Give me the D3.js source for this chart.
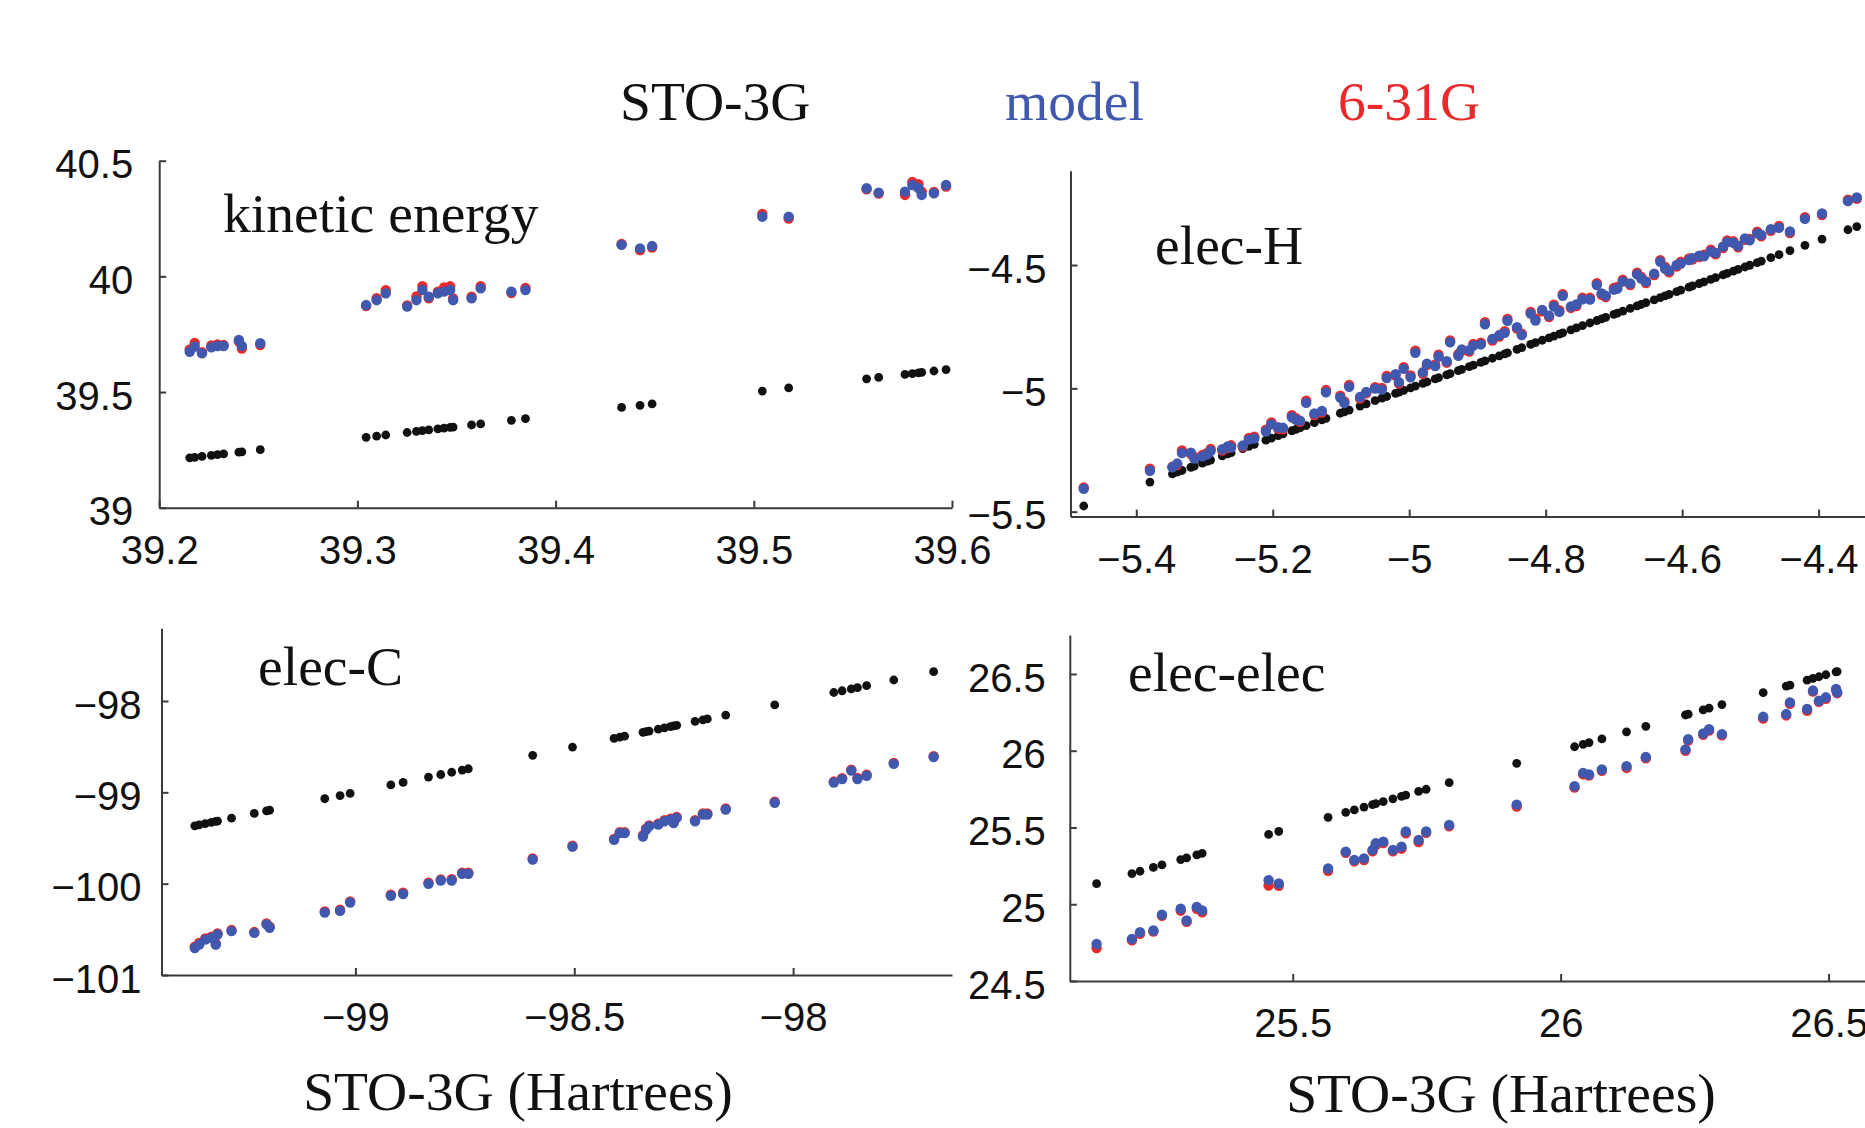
<!DOCTYPE html>
<html><head><meta charset="utf-8">
<script src="https://cdn.jsdelivr.net/npm/d3@7"></script>
<style>body{margin:0;background:#fff;overflow:hidden}</style>
</head><body>
<svg id="chart" width="1865" height="1128"></svg>
<script>
// ---------------- DATA ----------------
const legendLabels = ["STO-3G", "model", "6-31G"];
const panelTitles = ["kinetic energy", "elec-H", "elec-C", "elec-elec"];
const xAxisTitle = "STO-3G (Hartrees)";

// kinetic energy (x = STO-3G value; black points are STO-3G vs itself)
const keSTO = [39.2154,39.2179,39.2216,39.2263,39.2294,39.2325,39.2402,39.2417,39.2510,39.3044,39.3097,39.3143,39.3251,39.3298,39.3328,39.3360,39.3406,39.3437,39.3468,39.3483,39.3576,39.3622,39.3777,39.3848,39.4333,39.4426,39.4487,39.5043,39.5176,39.5569,39.5630,39.5763,39.5800,39.5831,39.5847,39.5909,39.5970];
const keModel = [39.674,39.696,39.667,39.693,39.699,39.699,39.725,39.699,39.711,39.876,39.897,39.927,39.869,39.897,39.941,39.912,39.927,39.934,39.941,39.897,39.905,39.948,39.934,39.941,40.136,40.121,40.131,40.258,40.258,40.381,40.362,40.366,40.395,40.381,40.352,40.359,40.395];
const ke631 = [39.684,39.712,39.672,39.701,39.706,39.703,39.718,39.688,39.703,39.872,39.906,39.940,39.874,39.913,39.958,39.905,39.934,39.952,39.957,39.905,39.912,39.958,39.928,39.950,40.140,40.113,40.125,40.270,40.250,40.376,40.358,40.352,40.408,40.398,40.366,40.365,40.388];
const keXTicks = [39.2,39.3,39.4,39.5,39.6];
const keYTicks = [39,39.5,40,40.5];

// elec-H
const ehSTO = [-5.477,-5.380,-5.347,-5.333,-5.320,-5.303,-5.291,-5.274,-5.261,-5.244,-5.227,-5.210,-5.202,-5.185,-5.172,-5.160,-5.151,-5.139,-5.122,-5.101,-5.088,-5.063,-5.050,-5.033,-5.020,-5.008,-4.991,-4.974,-4.957,-4.940,-4.923,-4.906,-4.889,-4.868,-4.856,-4.835,-4.822,-4.805,-4.788,-4.775,-4.763,-4.746,-4.725,-4.712,-4.695,-4.687,-4.666,-4.653,-4.632,-4.619,-4.602,-4.585,-4.568,-4.551,-4.534,-4.518,-4.501,-4.484,-4.458,-4.442,-4.420,-4.395,-4.357,-4.344,
  -5.040,-5.015,-4.998,-4.980,-4.962,-4.945,-4.928,-4.912,-4.895,-4.878,-4.860,-4.842,-4.815,-4.795,-4.780,-4.755,-4.735,-4.718,-4.700,-4.676,-4.660,-4.641,-4.625,-4.608,-4.590,-4.575,-4.558,-4.540,-4.525,-4.508,-4.490,-4.470,-5.296,-5.266,-5.235,-5.192,-5.166,-5.128,-5.095,-5.072,-5.315,-5.340];
const ehModel = [-5.407,-5.334,-5.320,-5.262,-5.261,-5.276,-5.254,-5.247,-5.240,-5.232,-5.204,-5.175,-5.146,-5.160,-5.117,-5.131,-5.059,-5.102,-5.016,-5.037,-4.994,-5.015,-5.001,-4.958,-4.943,-4.921,-4.856,-4.900,-4.871,-4.813,-4.842,-4.827,-4.740,-4.784,-4.726,-4.784,-4.697,-4.682,-4.668,-4.625,-4.668,-4.639,-4.581,-4.624,-4.596,-4.567,-4.538,-4.567,-4.487,-4.523,-4.494,-4.472,-4.465,-4.451,-4.407,-4.422,-4.400,-4.378,-4.349,-4.364,-4.313,-4.291,-4.241,-4.226,
  -5.005,-4.975,-4.955,-4.935,-4.910,-4.890,-4.868,-4.845,-4.822,-4.800,-4.775,-4.752,-4.725,-4.705,-4.690,-4.660,-4.640,-4.615,-4.600,-4.575,-4.555,-4.535,-4.515,-4.500,-4.480,-4.462,-4.445,-4.425,-4.410,-4.392,-4.372,-4.355,-5.268,-5.236,-5.208,-5.158,-5.128,-5.092,-5.060,-5.035,-5.285,-5.305];
const eh631 = [-5.402,-5.326,-5.318,-5.252,-5.266,-5.270,-5.246,-5.252,-5.231,-5.236,-5.196,-5.168,-5.138,-5.166,-5.109,-5.136,-5.050,-5.108,-5.007,-5.030,-4.986,-5.020,-4.995,-4.950,-4.948,-4.914,-4.847,-4.906,-4.864,-4.806,-4.848,-4.820,-4.732,-4.790,-4.719,-4.778,-4.690,-4.688,-4.661,-4.618,-4.674,-4.632,-4.574,-4.630,-4.589,-4.560,-4.531,-4.573,-4.480,-4.530,-4.487,-4.478,-4.458,-4.457,-4.400,-4.428,-4.394,-4.384,-4.342,-4.370,-4.306,-4.297,-4.235,-4.232,
  -4.998,-4.981,-4.948,-4.941,-4.903,-4.896,-4.861,-4.851,-4.815,-4.806,-4.768,-4.758,-4.718,-4.711,-4.683,-4.666,-4.633,-4.621,-4.593,-4.581,-4.548,-4.541,-4.508,-4.506,-4.473,-4.468,-4.438,-4.431,-4.403,-4.398,-4.365,-4.361,-5.262,-5.242,-5.201,-5.164,-5.121,-5.098,-5.053,-5.041,-5.278,-5.311];
const ehXTicks = [-5.4,-5.2,-5,-4.8,-4.6,-4.4];
const ehYTicks = [-5.5,-5,-4.5];

// elec-C
const ecSTO = [-99.367,-99.357,-99.343,-99.329,-99.319,-99.315,-99.283,-99.231,-99.203,-99.196,-99.070,-99.035,-99.012,-98.919,-98.891,-98.833,-98.805,-98.780,-98.756,-98.742,-98.595,-98.504,-98.409,-98.396,-98.385,-98.343,-98.336,-98.329,-98.308,-98.294,-98.280,-98.273,-98.266,-98.224,-98.206,-98.196,-98.154,-98.042,-97.907,-97.888,-97.867,-97.853,-97.832,-97.770,-97.679];
const ecModel = [-100.705,-100.668,-100.613,-100.594,-100.668,-100.557,-100.520,-100.539,-100.446,-100.483,-100.317,-100.298,-100.206,-100.132,-100.113,-100.002,-99.965,-99.965,-99.891,-99.891,-99.736,-99.595,-99.521,-99.447,-99.447,-99.484,-99.410,-99.373,-99.354,-99.317,-99.299,-99.336,-99.280,-99.317,-99.243,-99.243,-99.188,-99.114,-98.892,-98.855,-98.762,-98.855,-98.818,-98.688,-98.614];
const ec631 = [-100.690,-100.650,-100.600,-100.580,-100.655,-100.545,-100.508,-100.530,-100.435,-100.470,-100.305,-100.285,-100.195,-100.120,-100.100,-99.990,-99.955,-99.952,-99.880,-99.880,-99.725,-99.585,-99.510,-99.437,-99.436,-99.470,-99.398,-99.362,-99.344,-99.305,-99.288,-99.324,-99.270,-99.305,-99.232,-99.232,-99.177,-99.103,-98.882,-98.844,-98.751,-98.843,-98.807,-98.678,-98.604];
const ecXTicks = [-99,-98.5,-98];
const ecYTicks = [-101,-100,-99,-98];

// elec-elec
const eeSTO = [25.134,25.200,25.215,25.240,25.256,25.291,25.302,25.321,25.331,25.455,25.474,25.566,25.599,25.615,25.633,25.649,25.655,25.669,25.687,25.703,25.711,25.735,25.749,25.792,25.918,26.026,26.042,26.053,26.077,26.123,26.159,26.233,26.238,26.266,26.277,26.301,26.378,26.421,26.428,26.460,26.471,26.482,26.495,26.514,26.516];
const eeModel = [24.741,24.774,24.818,24.829,24.932,24.971,24.894,24.982,24.960,25.157,25.135,25.233,25.343,25.288,25.299,25.354,25.397,25.408,25.354,25.375,25.474,25.419,25.474,25.517,25.649,25.769,25.856,25.845,25.878,25.900,25.959,26.009,26.075,26.112,26.140,26.108,26.221,26.239,26.315,26.272,26.392,26.326,26.348,26.403,26.381];
const ee631 = [24.715,24.765,24.808,24.822,24.925,24.958,24.885,24.970,24.948,25.122,25.120,25.218,25.335,25.280,25.288,25.345,25.385,25.398,25.345,25.362,25.462,25.405,25.466,25.508,25.636,25.760,25.846,25.838,25.870,25.888,25.950,26.000,26.066,26.104,26.131,26.100,26.210,26.230,26.305,26.260,26.385,26.318,26.338,26.396,26.375];
const eeXTicks = [25.5,26,26.5];
const eeYTicks = [24.5,25,25.5,26,26.5];

// ---------------- LAYOUT / STYLE ----------------
const COL_STO = "#111111", COL_MODEL = "#4059ae", COL_631 = "#e82a2c";
const AXIS_COL = "#3a3a3a";
const SERIF = "'Liberation Serif','Times New Roman',serif";
const SANS = "'Liberation Sans',Arial,sans-serif";

const panels = [
  {title: panelTitles[0], sto: keSTO, model: keModel, b631: ke631, xt: keXTicks, yt: keYTicks,
   xd: [39.2, 39.6], xr: [159.2, 952], yd: [39, 40.5], yr: [507.7, 160.7], ypad: 26, tpos: [223, 232]},
  {title: panelTitles[1], sto: ehSTO, model: ehModel, b631: eh631, xt: ehXTicks, yt: ehYTicks,
   xd: [-5.4964, -4.332], xr: [1070.5, 1865], yd: [-5.52, -4.1176], yr: [516.6, 170.7], ypad: 24, tpos: [1155, 264]},
  {title: panelTitles[2], sto: ecSTO, model: ecModel, b631: ec631, xt: ecXTicks, yt: ecYTicks,
   xd: [-99.443, -97.637], xr: [161.5, 952], yd: [-101, -97.204], yr: [975, 628.3], ypad: 20, tpos: [258, 685]},
  {title: panelTitles[3], sto: eeSTO, model: eeModel, b631: ee631, xt: eeXTicks, yt: eeYTicks,
   xd: [25.084, 26.568], xr: [1069.8, 1865], yd: [24.5, 26.754], yr: [981, 635], ypad: 24, tpos: [1128, 691]}
];

const svg = d3.select("#chart");
svg.append("rect").attr("width", 1865).attr("height", 1128).attr("fill", "#fff");

const fmt = d3.format("");

function serifText(txt, x, y, anchor, color) {
  svg.append("text")
    .attr("transform", `translate(${x},${y}) scale(1.03,1)`)
    .attr("text-anchor", anchor)
    .attr("font-family", SERIF)
    .attr("font-size", 54)
    .attr("fill", color)
    .text(txt);
}

panels.forEach(p => {
  const x = d3.scaleLinear().domain(p.xd).range(p.xr);
  const y = d3.scaleLinear().domain(p.yd).range(p.yr);
  const g = svg.append("g");

  const gx = g.append("g").attr("transform", `translate(0,${p.yr[0]})`)
    .call(d3.axisBottom(x).tickValues(p.xt).tickSizeInner(-7).tickSizeOuter(0).tickPadding(28).tickFormat(fmt));
  const gy = g.append("g").attr("transform", `translate(${p.xr[0]},0)`)
    .call(d3.axisLeft(y).tickValues(p.yt).tickSizeInner(-7).tickSizeOuter(0).tickPadding(p.ypad).tickFormat(fmt));
  gy.selectAll("text").attr("dy", "0.43em");
  [gx, gy].forEach(a => {
    a.select(".domain").attr("stroke", AXIS_COL).attr("stroke-width", 2);
    a.selectAll(".tick line").attr("stroke", AXIS_COL).attr("stroke-width", 2);
    a.selectAll("text").attr("font-family", SANS).attr("font-size", 40).attr("fill", "#111");
  });

  const idx = d3.range(p.sto.length);
  // STO-3G reference (plotted against itself)
  g.append("g").selectAll("circle").data(idx).join("circle")
    .attr("cx", i => x(p.sto[i])).attr("cy", i => y(p.sto[i])).attr("r", 4.4).attr("fill", COL_STO);
  // 6-31G
  g.append("g").selectAll("circle").data(idx).join("circle")
    .attr("cx", i => x(p.sto[i])).attr("cy", i => y(p.b631[i])).attr("r", 5.2).attr("fill", COL_631);
  // model
  g.append("g").selectAll("circle").data(idx).join("circle")
    .attr("cx", i => x(p.sto[i])).attr("cy", i => y(p.model[i])).attr("r", 5.2).attr("fill", COL_MODEL);

  serifText(p.title, p.tpos[0], p.tpos[1], "start", "#111");
});

// legend
serifText(legendLabels[0], 620, 120, "start", "#111");
serifText(legendLabels[1], 1005, 120, "start", COL_MODEL);
serifText(legendLabels[2], 1338, 120, "start", COL_631);

// x-axis titles
serifText(xAxisTitle, 518, 1110, "middle", "#111");
serifText(xAxisTitle, 1501, 1112, "middle", "#111");
</script>
</body></html>
